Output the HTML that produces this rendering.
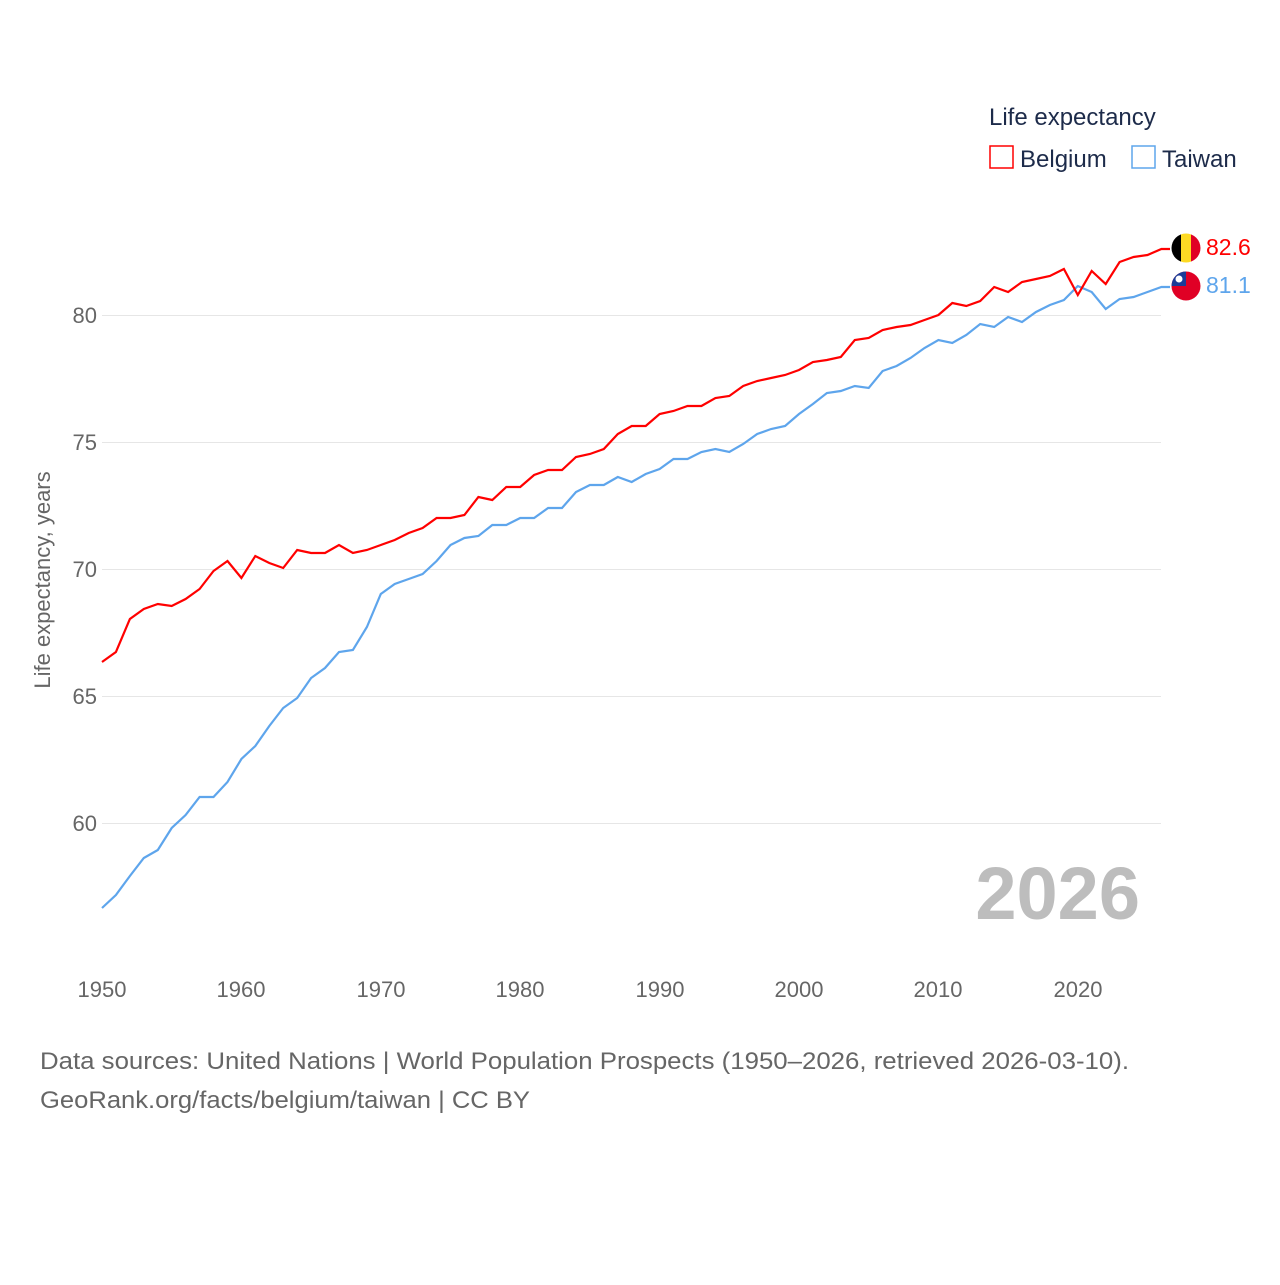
<!DOCTYPE html>
<html><head><meta charset="utf-8"><style>
html,body{margin:0;padding:0;background:#fff;}
svg text{font-family:"Liberation Sans",sans-serif;}
</style></head><body>
<svg id="s" width="1280" height="1280" xmlns="http://www.w3.org/2000/svg">
<g stroke="#e6e6e6" stroke-width="1">
<line x1="102" x2="1161" y1="315.5" y2="315.5"/>
<line x1="102" x2="1161" y1="442.5" y2="442.5"/>
<line x1="102" x2="1161" y1="569.5" y2="569.5"/>
<line x1="102" x2="1161" y1="696.5" y2="696.5"/>
<line x1="102" x2="1161" y1="823.5" y2="823.5"/>
</g>
<g fill="#666" font-size="22" text-anchor="end">
<text x="97" y="323">80</text><text x="97" y="450">75</text><text x="97" y="577">70</text><text x="97" y="704">65</text><text x="97" y="831">60</text>
</g>
<text transform="translate(50,580) rotate(-90)" fill="#666" font-size="22" text-anchor="middle">Life expectancy, years</text>
<g fill="#666" font-size="22" text-anchor="middle">
<text x="102" y="997">1950</text><text x="241" y="997">1960</text><text x="381" y="997">1970</text><text x="520" y="997">1980</text><text x="660" y="997">1990</text><text x="799" y="997">2000</text><text x="938" y="997">2010</text><text x="1078" y="997">2020</text>
</g>
<text x="1140" y="919" fill="#bdbdbd" font-size="74" font-weight="bold" text-anchor="end">2026</text>
<polyline id="tw" fill="none" stroke="#5ea5ec" stroke-width="2.2"/>
<polyline id="be" fill="none" stroke="#ff0000" stroke-width="2.2"/>
<text x="989" y="125" fill="#1d2b4a" font-size="24">Life expectancy</text>
<rect x="990" y="146" width="23" height="22" fill="none" stroke="#ff0000" stroke-width="1.5"/>
<text x="1020" y="167" fill="#1d2b4a" font-size="24">Belgium</text>
<rect x="1132" y="146" width="23" height="22" fill="none" stroke="#5ea5ec" stroke-width="1.5"/>
<text x="1162" y="167" fill="#1d2b4a" font-size="24">Taiwan</text>
<defs><clipPath id="c1"><circle cx="1186" cy="248" r="14.5"/></clipPath><clipPath id="c2"><circle cx="1186" cy="286" r="14.5"/></clipPath></defs>
<g clip-path="url(#c1)"><rect x="1171" y="233" width="10" height="30" fill="#000"/><rect x="1181" y="233" width="10" height="30" fill="#fdda24"/><rect x="1191" y="233" width="10" height="30" fill="#e00025"/></g>
<g clip-path="url(#c2)"><rect x="1171" y="271" width="30" height="30" fill="#e00025"/><rect x="1171" y="271" width="15" height="15" fill="#1a3c98"/><circle cx="1179" cy="279" r="3.5" fill="#fff"/></g>
<text x="1206" y="255" fill="#ff0000" font-size="23">82.6</text>
<text x="1206" y="293" fill="#5ea5ec" font-size="23">81.1</text>
<text x="40" y="1069" fill="#666" font-size="24" textLength="1089" lengthAdjust="spacingAndGlyphs">Data sources: United Nations | World Population Prospects (1950–2026, retrieved 2026-03-10).</text>
<text x="40" y="1108" fill="#666" font-size="24" textLength="490" lengthAdjust="spacingAndGlyphs">GeoRank.org/facts/belgium/taiwan | CC BY</text>
</svg>
<script>
var be=[662,652,619,609,604,606,599,589,571,561,578,556,563,568,550,553,553,545,553,550,545,540,533,528,518,518,515,497,500,487,487,475,470,470,457,454,449,434,426,426,414,411,406,406,398,396,386,381,378,375,370,362,360,357,340,338,330,327,325,320,315,303,306,301,287,292,282,279,276,269,295,271,284,262,257,255,249];
var tw=[908,895,876,858,850,828,815,797,797,782,759,746,726,708,698,678,668,652,650,627,594,584,579,574,561,545,538,536,525,525,518,518,508,508,492,485,485,477,482,474,469,459,459,452,449,452,444,434,429,426,414,404,393,391,386,388,371,366,358,348,340,343,335,324,327,317,322,312,305,300,286,292,309,299,297,292,287];
function pts(a){return a.map(function(y,i){return (102+i*13.94).toFixed(1)+","+y;}).join(" ")+" 1170,"+a[a.length-1];}
document.getElementById("be").setAttribute("points",pts(be));
document.getElementById("tw").setAttribute("points",pts(tw));
</script>
</body></html>
